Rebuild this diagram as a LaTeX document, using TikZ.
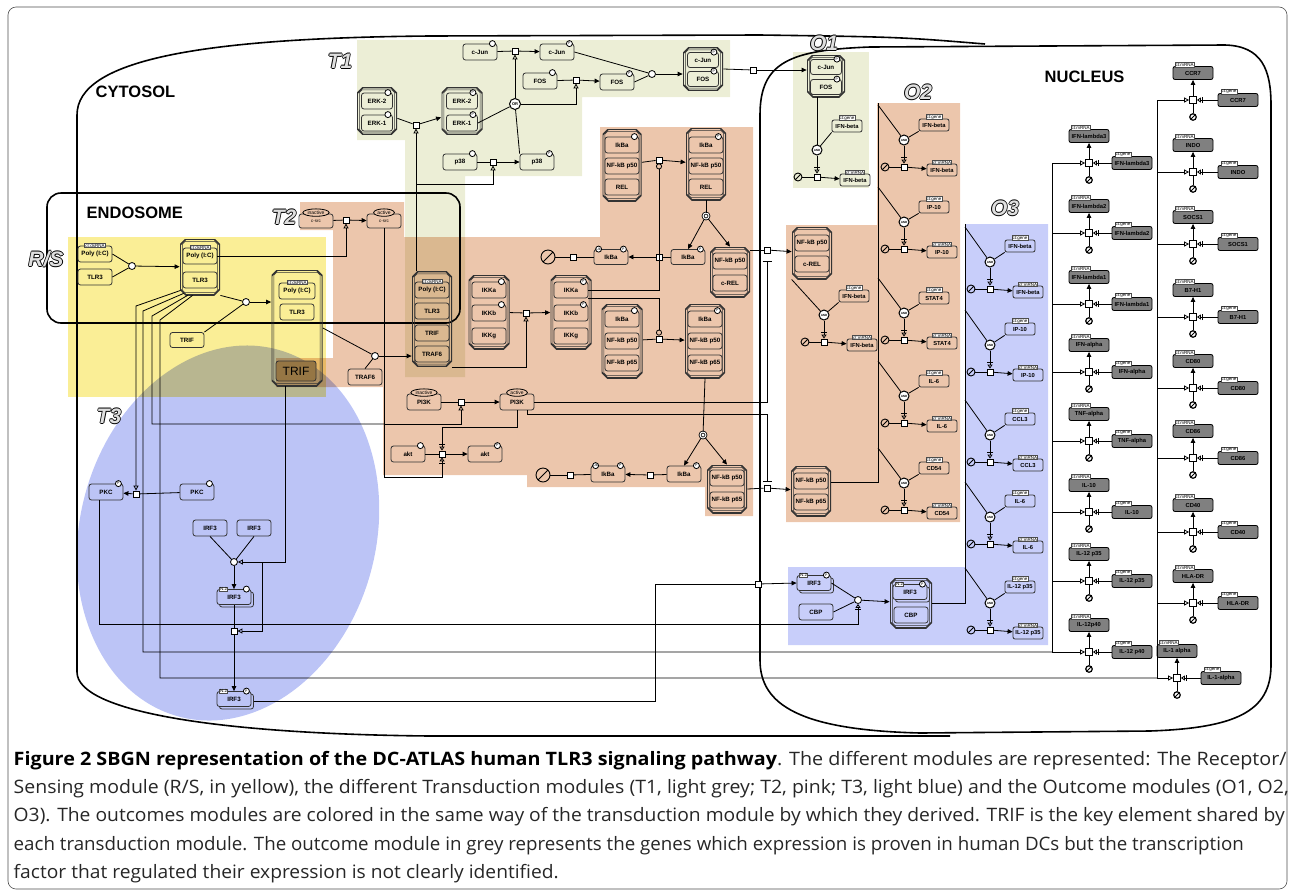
\documentclass[tikz,border=0pt]{standalone}
\usepackage{fontspec}
\usepackage{graphicx}
\setsansfont{Liberation Sans}
\newfontfamily\capfont{Open Sans}
\usetikzlibrary{arrows.meta,shapes.misc,shapes.geometric,calc}

\definecolor{rsyel}{RGB}{250,238,150}
\definecolor{tonegrn}{RGB}{236,238,214}
\definecolor{ttwopnk}{RGB}{236,198,172}
\definecolor{tthreeblu}{RGB}{188,196,246}
\definecolor{othreeblu}{RGB}{200,206,250}
\definecolor{trifbrn}{RGB}{150,118,68}
\definecolor{gengray}{RGB}{128,128,128}

\newcommand{\lbl}{\fontsize{6.2}{6.2}\selectfont\sffamily\bfseries}
\newcommand{\tlbl}{\fontsize{4.5}{4.5}\selectfont\sffamily}
\newcommand{\glbl}{\fontsize{5.8}{5.8}\selectfont\sffamily\bfseries}
\newcommand{\outl}[1]{\rlap{\hspace*{0.8pt}#1}\rlap{\hspace*{-0.8pt}#1}\rlap{\raisebox{0.8pt}{#1}}\rlap{\raisebox{-0.8pt}{#1}}\textcolor{gray!25}{#1}}
\newlength{\capw}
\newcommand{\capline}[2]{\settowidth{\capw}{#2}\pgfmathsetmacro{\capr}{#1/\capw}\scalebox{\capr}[1]{#2}}
% chamfered outline inside a node, #1 inset, #2 chamfer
\newcommand{\chpath}[2]{([xshift=#2, yshift=-#1]path picture bounding box.north west)
  -- ([xshift=-#2, yshift=-#1]path picture bounding box.north east) -- ([xshift=-#1, yshift=-#2]path picture bounding box.north east)
  -- ([xshift=-#1, yshift=#2]path picture bounding box.south east) -- ([xshift=-#2, yshift=#1]path picture bounding box.south east)
  -- ([xshift=#2, yshift=#1]path picture bounding box.south west) -- ([xshift=#1, yshift=#2]path picture bounding box.south west)
  -- ([xshift=#1, yshift=-#2]path picture bounding box.north west) -- cycle}

\tikzset{
  ent/.style={draw=black!80, rounded corners=2.5pt, minimum width=34pt, minimum height=16pt, inner sep=1pt, font=\lbl},
  cplx/.style={inner sep=0pt, path picture={\draw[black!80, line width=1.6pt] \chpath{0pt}{6pt};
    \draw[black!80, line width=0.5pt] \chpath{2.4pt}{5pt};}},
  proc/.style={draw, fill=white, minimum size=6pt, inner sep=0pt},
  asc/.style={circle, draw, fill=white, minimum size=7pt, inner sep=0pt},
  dis/.style={circle, draw, double, double distance=1pt, fill=white, minimum size=6pt, inner sep=0pt},
  andg/.style={circle, draw, line width=1pt, fill=white, minimum size=10pt, inner sep=0pt, font=\fontsize{3}{3}\selectfont\sffamily\bfseries},
  sink/.style={circle, draw, minimum size=8pt, inner sep=0pt, line width=0.9pt,
    path picture={\draw[line width=0.9pt] (path picture bounding box.south west) -- (path picture bounding box.north east);}},
  gsink/.style={sink, minimum size=6.5pt, line width=1.2pt},
  ctl/.style={draw=black!70, fill=white, inner sep=0.6pt, font=\tlbl},
  stv/.style={circle, draw, fill=white, inner sep=0pt, minimum size=6pt, font=\fontsize{3.5}{3.5}\selectfont\sffamily},
  phos/.style={label={[stv, anchor=center, xshift=-5pt]north east:P}},
  unph/.style={label={[stv, anchor=center, xshift=-5pt]north east:}},
  ubq/.style={label={[stv, anchor=center, xshift=5pt]north west:Ub}},
  actst/.style={label={[ellipse, draw, fill=ttwopnk, inner sep=0.8pt, font=\fontsize{5}{5}\selectfont\sffamily, anchor=center, yshift=1pt]north:#1}},
  pic/.style={label={[ctl, anchor=center]north:ct:dsRNA}},
  gene/.style={draw=black!80, rounded corners=2pt, minimum width=30pt, minimum height=12pt, inner sep=0.5pt, font=\glbl,
    label={[ctl, anchor=south, yshift=-1.5pt]north:ct:gene}},
  mrna/.style={draw=black!80, rounded corners=2pt, minimum width=30pt, minimum height=12pt, inner sep=0.5pt, font=\glbl,
    label={[ctl, anchor=south, yshift=-1.5pt]north:ct:mRNA}},
  gmrna/.style={draw, fill=gengray, rounded corners=2pt, minimum width=40pt, minimum height=13pt, inner sep=0.5pt, font=\glbl,
    label={[ctl, anchor=south west, xshift=2pt, yshift=-1.5pt]north west:ct:mRNA}},
  ggene/.style={draw, fill=gengray, rounded corners=2pt, minimum width=40pt, minimum height=13pt, inner sep=0.5pt, font=\glbl,
    label={[ctl, anchor=south west, xshift=3pt, yshift=-1.5pt]north west:ct:gene}},
  gproc/.style={draw, fill=white, minimum size=7pt, inner sep=0pt},
  prod/.style={-{Triangle[length=5pt,width=4.5pt]}},
  stim/.style={-{Triangle[open,length=5pt,width=5pt]}},
  catal/.style={-{Circle[open,length=6pt]}},
  nstim/.style={-{Bar[width=6pt,sep=1.5pt] Triangle[open,length=4pt,width=5pt]}},
  inhib/.style={-{Bar[width=9pt]}},
  comp/.style={line width=1.6pt},
  reg/.style={blend mode=multiply},
  modlbl/.style={font=\fontsize{21}{21}\selectfont\sffamily\bfseries\itshape},
  complbl/.style={anchor=base west, font=\fontsize{16.5}{16.5}\selectfont\sffamily\bfseries},
  capl/.style={anchor=base west, font=\capfont\fontsize{18.5}{18.5}\selectfont, text=black!85}
}

% one outcome unit: gene, AND gate, transcription, mRNA
\newcommand{\ounit}[6]{%
  \node[andg] (#1and) at (#2,#3) {AND};
  \node[gene] (#1g) at (#2+30,#3#6) {#4};
  \node[proc] (#1p) at (#2,#3+27) {};
  \node[sink] (#1s) at (#2-19,#3+27) {};
  \node[mrna] (#1m) at (#2+38,#3+30) {#5};
  \draw (#1g.south west) -- (#1and);
  \draw[nstim] (#1and) -- (#1p);
  \draw (#1s) -- (#1p);
  \draw[prod] (#1p) -- (#1m);
}
% one grey unit of the nucleus
\newcommand{\gunit}[6]{%
  \node[gproc] (#1p) at (#2,#3) {};
  \node[gmrna] (#1m) at (#2,#3-27) {#4};
  \node[ggene] (#1g) at (#2+#6,#3) {#5};
  \node[gsink] (#1s) at (#2,#3+17) {};
  \draw[prod] (#1p) -- (#1m);
  \draw (#1p) -- (#1s);
  \draw[nstim] (#1g) -- (#1p);
}
\newcommand{\multimer}[5]{%
  \node[ent, fill=#5, minimum height=15pt] (#1b) at (#2+2.5,#3+2.5) {};
  \node[ent, fill=#5, minimum height=15pt, #4, label={[ctl, anchor=center, xshift=7pt]north west:N:2}] (#1) at (#2,#3) {IRF3};
}

\begin{document}
\begin{tikzpicture}[x=1pt, y=-1pt, line width=0.8pt]
  \useasboundingbox (0,0) rectangle (1293,895);

  % modules
  \fill[ttwopnk, reg] (300,202) -- (404,202) -- (404,237) -- (600,237) -- (600,127) -- (753,127) -- (753,516) -- (705,516)
    -- (705,487) -- (527,487) -- (527,475) -- (383,475) -- (383,387) -- (276,387) -- (276,358) -- (333,358) -- (333,230)
    -- (300,230) -- cycle;
  \fill[ttwopnk, reg] (877,103) -- (960,103) -- (960,522) -- (786,522) -- (786,225) -- (877,225) -- cycle;
  \fill[tonegrn, reg] (357,40) -- (730,40) -- (730,97) -- (582,97) -- (582,176) -- (465,176) -- (465,377) -- (405,377)
    -- (405,140) -- (357,140) -- cycle;
  \fill[tonegrn, reg] (793,52) rectangle (869,188);
  \fill[rsyel, reg] (68,237) rectangle (326,397);
  \fill[tthreeblu, reg, rotate around={-15:(228,533)}] (228,533) ellipse [x radius=148, y radius=190];
  \fill[othreeblu, reg] (965,224) -- (1048,224) -- (1048,645) -- (788,645) -- (788,567) -- (965,567) -- cycle;

  % frame and compartments
  \draw[rounded corners=8pt, line width=0.6pt, black!70] (8,7) rectangle (1287,889);
  \draw[comp] (985,44) .. controls (900,37) .. (760,35) -- (430,36) .. controls (200,38) and (77,60) .. (77,115)
    -- (77,672) .. controls (77,712) and (220,734) .. (430,736) -- (950,736);
  \draw[comp] (760,115) .. controls (760,62) and (790,50) .. (870,47) -- (1225,45) .. controls (1262,46) and (1271,70) .. (1271,105)
    -- (1271,665) .. controls (1271,712) and (1235,728) .. (1150,731) -- (920,733) .. controls (800,730) and (760,705) .. (760,660) -- cycle;
  \draw[comp, rounded corners=14pt] (47,193) rectangle (460,323);
  \node[complbl] (cytl) at (92,97) {CYTOSOL};
  \node[complbl] (endl) at (83,218) {ENDOSOME};
  \node[complbl] (nucl) at (1041,82) {NUCLEUS};

  \node[modlbl] (mt1) at (340,61) {\outl{T1}};
  \node[modlbl] (mt2) at (284,217) {\outl{T2}};
  \node[modlbl] (mt3) at (109,416) {\outl{T3}};
  \node[modlbl] (mrs) at (46,259) {\outl{R/S}};
  \node[modlbl] (mo1) at (824,43) {\outl{O1}};
  \node[modlbl] (mo2) at (918,92) {\outl{O2}};
  \node[modlbl] (mo3) at (1005,208) {\outl{O3}};

  % receptor / sensing
  \node[ent, pic] (pica) at (95,254) {Poly (I:C)};
  \node[ent] (tlra) at (95,277) {TLR3};
  \node[asc] (asca) at (132,266) {};
  \node[cplx, minimum width=40pt, minimum height=56pt] (cb) at (200,267) {};
  \node[ent, pic] (picb) at (200,256) {Poly (I:C)};
  \node[ent] (tlrb) at (200,280) {TLR3};
  \node[asc] (ascb) at (246,302) {};
  \node[ent, minimum height=15pt] (trifa) at (187,340) {TRIF};
  \node[cplx, minimum width=51pt, minimum height=116pt] (cc) at (297,328) {};
  \node[ent, pic, minimum width=36pt] (picc) at (297,291) {Poly (I:C)};
  \node[ent] (tlrc) at (297,312) {TLR3};
  \node[ent, fill=trifbrn, minimum width=40pt, minimum height=20pt, font=\fontsize{12}{12}\selectfont\sffamily] (trifc) at (296,371) {TRIF};
  \node[asc] (ascc) at (375,356) {};
  \node[ent] (traf6a) at (365,377) {TRAF6};
  \node[cplx, minimum width=40pt, minimum height=95pt] (cd) at (432,319) {};
  \node[ent, pic] (picd) at (432,290) {Poly (I:C)};
  \node[ent] (tlrd) at (432,311) {TLR3};
  \node[ent] (trifd) at (432,333) {TRIF};
  \node[ent] (traf6d) at (432,354) {TRAF6};

  % c-src
  \node[ent, actst=inactive, minimum height=14pt, font=\tlbl] (csrci) at (316,221) {c-src};
  \node[proc] (pcsrc) at (346,220) {};
  \node[ent, actst=active, minimum height=14pt, font=\tlbl] (csrca) at (384,221) {c-src};

  % T1
  \node[cplx, minimum width=40pt, minimum height=47pt] (cerk) at (377,111) {};
  \node[ent, unph, minimum width=31pt] (erk2) at (377,101) {ERK-2};
  \node[ent, unph, minimum width=31pt] (erk1) at (377,123) {ERK-1};
  \node[proc] (perk) at (416,125) {};
  \node[cplx, minimum width=41pt, minimum height=47pt] (cerkp) at (462,111) {};
  \node[ent, phos, minimum width=31pt] (erk2p) at (462,101) {ERK-2};
  \node[ent, phos, minimum width=31pt] (erk1p) at (462,123) {ERK-1};
  \node[ent, unph] (p38i) at (460,162) {p38};
  \node[proc] (pp38) at (493,162) {};
  \node[ent, phos] (p38p) at (537,162) {p38};
  \node[andg, minimum size=11pt, font=\fontsize{4}{4}\selectfont\sffamily\bfseries] (org) at (515,104) {OR};
  \node[ent, unph] (cjuni) at (480,52) {c-Jun};
  \node[proc] (pjun) at (515,51) {};
  \node[ent, phos] (cjunp) at (557,52) {c-Jun};
  \node[ent, unph] (fosi) at (540,81) {FOS};
  \node[proc] (pfos) at (576,80) {};
  \node[ent, phos] (fosp) at (617,82) {FOS};
  \node[asc] (ascd) at (652,74) {};
  \node[cplx, minimum width=40pt, minimum height=43pt] (cap) at (703,69) {};
  \node[ent, phos, minimum width=31pt, minimum height=15pt] (cjunp2) at (703,60) {c-Jun};
  \node[ent, phos, minimum width=31pt, minimum height=15pt] (fosp2) at (703,79) {FOS};
  \node[proc] (pap) at (753,70) {};
  \node[cplx, minimum width=38pt, minimum height=42pt] (capn) at (826,76) {};
  \node[ent, phos, minimum width=31pt, minimum height=15pt] (cjunp3) at (826,67) {c-Jun};
  \node[ent, phos, minimum width=31pt, minimum height=15pt] (fosp3) at (826,87) {FOS};

  % T2
  \node[cplx, minimum width=41pt, minimum height=74pt] (cikk) at (489,312) {};
  \node[ent, unph] (ikka) at (489,290) {IKKa};
  \node[ent, unph] (ikkb) at (489,313) {IKKb};
  \node[ent] (ikkg) at (489,336) {IKKg};
  \node[proc] (pikk) at (526,313) {};
  \node[cplx, minimum width=41pt, minimum height=74pt] (cikkp) at (571,312) {};
  \node[ent, phos] (ikkap) at (571,290) {IKKa};
  \node[ent, phos] (ikkbp) at (571,313) {IKKb};
  \node[ent] (ikkgp) at (571,336) {IKKg};

  \node[cplx, minimum width=39pt, minimum height=72pt] (ci1) at (622,165) {};
  \node[ent, unph] (ikba1) at (622,145) {IkBa};
  \node[ent] (nfkb1) at (622,166) {NF-kB p50};
  \node[ent] (rel1) at (622,187) {REL};
  \node[proc] (pi1) at (659,160) {};
  \node[cplx, minimum width=40pt, minimum height=72pt] (ci2) at (706,164) {};
  \node[ent, phos] (ikba2) at (706,145) {IkBa};
  \node[ent] (nfkb2) at (706,166) {NF-kB p50};
  \node[ent] (rel2) at (706,187) {REL};
  \node[dis] (dis1) at (706,216) {};
  \node[ent, phos, minimum height=15pt] (ikbap1) at (688,257) {IkBa};
  \node[proc] (pdeg1) at (659,257) {};
  \node[ent, phos, ubq, minimum height=15pt] (ikbau1) at (611,257) {IkBa};
  \node[proc] (psink1) at (573,257) {};
  \node[sink, minimum size=14pt] (sinka) at (548,257) {};
  \node[cplx, minimum width=40pt, minimum height=50pt] (cnr) at (730,272) {};
  \node[ent] (nfkb3) at (730,261) {NF-kB p50};
  \node[ent] (crel1) at (730,283) {c-REL};

  \node[cplx, minimum width=41pt, minimum height=74pt] (ci3) at (622,341) {};
  \node[ent, unph] (ikba3) at (622,319) {IkBa};
  \node[ent] (nfkb4) at (622,341) {NF-kB p50};
  \node[ent] (p65a) at (622,363) {NF-kB p65};
  \node[proc] (pi3) at (659,339) {};
  \node[cplx, minimum width=40pt, minimum height=74pt] (ci4) at (705,341) {};
  \node[ent, phos] (ikba4) at (705,319) {IkBa};
  \node[ent] (nfkb5) at (705,341) {NF-kB p50};
  \node[ent] (p65b) at (705,363) {NF-kB p65};
  \node[dis] (dis2) at (703,435) {};
  \node[ent, phos] (ikbap2) at (684,474) {IkBa};
  \node[proc] (pdeg2) at (650,475) {};
  \node[ent, phos, ubq] (ikbau2) at (608,474) {IkBa};
  \node[proc] (psink2) at (570,475) {};
  \node[sink, minimum size=14pt] (sinkb) at (543,475) {};
  \node[cplx, minimum width=40pt, minimum height=48pt] (cnp) at (727,489) {};
  \node[ent] (nfkb6) at (727,478) {NF-kB p50};
  \node[ent] (p65c) at (727,500) {NF-kB p65};

  \node[ent, actst=inactive] (pi3ki) at (424,402) {PI3K};
  \node[proc] (ppi3k) at (461,402) {};
  \node[ent, actst=active] (pi3ka) at (517,402) {PI3K};
  \node[ent, unph] (akti) at (408,454) {akt};
  \node[proc] (pakt) at (442,454) {};
  \node[ent, phos] (akta) at (485,454) {akt};

  % T3
  \node[ent, phos] (pkcp) at (106,492) {PKC};
  \node[proc] (ppkc) at (136,494) {};
  \node[ent, unph] (pkci) at (197,492) {PKC};
  \node[ent] (irf3a) at (210,528) {IRF3};
  \node[ent] (irf3b) at (254,528) {IRF3};
  \node[asc] (ascf) at (234,562) {};
  \multimer{irf3d}{234}{597}{unph}{tthreeblu}
  \node[proc] (pirf3) at (234,631) {};
  \multimer{irf3p}{234}{699}{phos}{tthreeblu}

  % nucleus, O1 .. O3
  \node[proc] (pnr) at (767,250) {};
  \node[proc] (pnp) at (767,488) {};
  \node[cplx, minimum width=40pt, minimum height=52pt] (co2a) at (812,253) {};
  \node[ent] (nfkb7) at (812,243) {NF-kB p50};
  \node[ent] (crel2) at (812,264) {c-REL};
  \node[cplx, minimum width=40pt, minimum height=50pt] (co2b) at (811,491) {};
  \node[ent] (nfkb8) at (811,481) {NF-kB p50};
  \node[ent] (p65d) at (811,502) {NF-kB p65};
  \multimer{irf3o}{814}{583}{phos}{othreeblu}
  \node[ent] (cbp) at (816,612) {CBP};
  \node[asc] (asce) at (858,600) {};
  \node[proc] (pirf) at (758,584) {};
  \node[cplx, minimum width=42pt, minimum height=50pt] (cic) at (911,603) {};
  \multimer{irf3c}{910}{592}{phos}{othreeblu}
  \node[ent] (cbp2) at (911,615) {CBP};

  \ounit{oa}{817}{150}{IFN-beta}{IFN-beta}{-24}
  \ounit{ob}{824}{315}{IFN-beta}{IFN-beta}{-19}
  \ounit{oc}{904}{140}{IFN-beta}{IFN-beta}{-15}
  \ounit{od}{904}{222}{IP-10}{IP-10}{-15}
  \ounit{oe}{904}{313}{STAT4}{STAT4}{-15}
  \ounit{of}{904}{396}{IL-6}{IL-6}{-15}
  \ounit{og}{904}{483}{CD54}{CD54}{-15}
  \ounit{oh}{990}{262}{IFN-beta}{IFN-beta}{-16}
  \ounit{oi}{990}{345}{IP-10}{IP-10}{-16}
  \ounit{oj}{990}{435}{CCL3}{CCL3}{-16}
  \ounit{ok}{990}{517}{IL-6}{IL-6}{-16}
  \ounit{ol}{990}{603}{IL-12 p35}{IL-12 p35}{-16}

  \gunit{ga}{1089}{163}{IFN-lambda3}{IFN-lambda3}{43}
  \gunit{gb}{1089}{233}{IFN-lambda2}{IFN-lambda2}{43}
  \gunit{gc}{1089}{304}{IFN-lambda1}{IFN-lambda1}{43}
  \gunit{gd}{1089}{372}{IFN-alpha}{IFN-alpha}{43}
  \gunit{ge}{1089}{441}{TNF-alpha}{TNF-alpha}{43}
  \gunit{gf}{1089}{512}{IL-10}{IL-10}{43}
  \gunit{gg}{1089}{581}{IL-12 p35}{IL-12 p35}{43}
  \gunit{gh}{1089}{652}{IL-12p40}{IL-12 p40}{43}
  \gunit{gi}{1193}{100}{CCR7}{CCR7}{45}
  \gunit{gj}{1193}{172}{INDO}{INDO}{45}
  \gunit{gk}{1193}{244}{SOCS1}{SOCS1}{45}
  \gunit{gl}{1193}{317}{B7-H1}{B7-H1}{45}
  \gunit{gm}{1193}{388}{CD80}{CD80}{45}
  \gunit{gn}{1193}{458}{CD86}{CD86}{45}
  \gunit{go}{1193}{532}{CD40}{CD40}{45}
  \gunit{gp}{1193}{603}{HLA-DR}{HLA-DR}{45}
  \gunit{gq}{1177}{678}{IL-1 alpha}{IL-1-alpha}{44}

  % grey module lines
  \coordinate (gl1) at (1052,163);
  \coordinate (gl2) at (1052,652);
  \coordinate (gr1) at (1157,100);
  \coordinate (gr2) at (1157,678);
  \draw (gl1) -- (gl2);
  \draw (gr1) -- (gr2);
  \foreach \u in {ga,gb,gc,gd,ge,gf,gg,gh} \draw[stim] (\u p -| gl1) -- (\u p);
  \foreach \u in {gi,gj,gk,gl,gm,gn,go,gp} \draw[stim] (\u p -| gr1) -- (\u p);
  \draw[stim] (gr2) -- (gqp);

  % connectors: R/S
  \draw (pica.east) -- (asca);
  \draw (tlra.east) -- (asca);
  \draw[prod] (asca) -- (cb);
  \draw (cb.south east) -- (ascb);
  \draw (trifa.north east) -- (ascb);
  \draw[prod] (ascb) -- (cc.west |- ascb);
  \draw (cc.east) -- (ascc);
  \draw (traf6a.north) -- (ascc);
  \draw[prod] (ascc) -- (cd.west |- ascc);
  \draw[stim] (picb.east) -| (pcsrc.south);
  \draw (csrci) -- (pcsrc);
  \draw[prod] (pcsrc) -- (csrca);

  % T1
  \coordinate (eb) at (416,184);
  \draw[stim] (cd.north -| perk) -- (perk.south);
  \draw[stim] (eb) -| (pp38.south);
  \draw (cerk) -- (perk);
  \draw[prod] (perk) -- (cerkp);
  \draw (p38i) -- (pp38);
  \draw[prod] (pp38) -- (p38p);
  \draw (erk1p.east) -- (org);
  \draw (p38p.north west) -- (org);
  \draw[stim] (org) -- (pjun.south);
  \draw[stim] (org) -| (pfos.south);
  \draw (cjuni) -- (pjun);
  \draw[prod] (pjun) -- (cjunp);
  \draw (fosi) -- (pfos);
  \draw[prod] (pfos) -- (fosp);
  \draw (cjunp.east) -- (ascd);
  \draw (fosp.east) -- (ascd);
  \draw[prod] (ascd) -- (cap.west |- ascd);
  \draw (cap.east) -- (pap);
  \draw[prod] (pap) -- (capn.west |- pap);
  \draw (oaand |- capn.south) -- (oaand);

  % T2
  \draw[stim] (cd.south east) -| (pikk.south);
  \draw (cikk) -- (pikk);
  \draw[prod] (pikk) -- (cikkp);
  \draw[catal] (ikkap.east) -| (pi1.south);
  \draw[catal] (ikkap.south east) -| (pi3.north);
  \draw (ci1) -- (pi1);
  \draw[prod] (pi1) -- (ci2);
  \draw (ci2.south) -- (dis1);
  \draw[prod] (dis1) -- (ikbap1.north);
  \draw[prod] (dis1) -- (cnr.north);
  \draw (ikbap1) -- (pdeg1);
  \draw[prod] (pdeg1) -- (ikbau1);
  \draw (ikbau1) -- (psink1);
  \draw (psink1) -- (sinka);
  \draw (ci3) -- (pi3);
  \draw[prod] (pi3) -- (ci4);
  \draw (ci4.south) -- (dis2);
  \draw[prod] (dis2) -- (ikbap2.north);
  \draw[prod] (dis2) -- (cnp.north);
  \draw (ikbap2) -- (pdeg2);
  \draw[prod] (pdeg2) -- (ikbau2);
  \draw (ikbau2) -- (psink2);
  \draw (psink2) -- (sinkb);
  \draw (pnr -| cnr.east) -- (pnr);
  \draw[prod] (pnr) -- (co2a);
  \draw (cnp.east) -- (pnp);
  \draw[prod] (pnp) -- (co2b);
  \coordinate (cs1) at (384,424);
  \coordinate (cs2) at (384,477);
  \coordinate (pk) at (442,427);
  \draw (csrca.south) -- (cs2);
  \draw[stim] (cs1) -| (ppi3k.south);
  \draw[nstim] (cs2) -| (pakt.south);
  \draw (pi3ki) -- (ppi3k);
  \draw[prod] (ppi3k) -- (pi3ka);
  \draw (akti) -- (pakt);
  \draw[prod] (pakt) -- (akta);
  \draw[nstim] (pi3ka.south) |- (pk) -- (pakt.north);
  \draw[inhib, shorten >=8pt] (pi3ka.east) -| (pnr.south);
  \draw[inhib, shorten >=3pt] ($(pi3ka.south east)+(-7,0)$) |- ($(pnp.north)+(0,-70)$) -- (pnp.north);

  % lines out of the endosome complex
  \draw[stim] ($(cb.south west)+(1,-5)$) -- (136,306) -- (ppkc.north);
  \draw ($(cb.south west)+(4,-2)$) -- (143,311) -- (143,652) -- (gl2);
  \draw ($(cb.south west)+(8,0)$) -- (152,316) -- (152,424) -- (cs1);
  \draw ($(cb.south west)+(13,0)$) -- (160,320) -- (160,678) -- (gr2);

  % T3
  \coordinate (tf) at (285,562);
  \coordinate (tg) at (262,562);
  \draw (pkci) -- (ppkc);
  \draw[prod] (ppkc) -- (pkcp);
  \draw (irf3a.south) -- (ascf);
  \draw (irf3b.south) -- (ascf);
  \draw[prod] (ascf) -- (irf3d.north);
  \draw[stim] (cc.south -| tf) -- (tf) -- (ascf.east);
  \draw[stim] (tg) |- (pirf3.east);
  \draw (irf3d.south) -- (pirf3);
  \draw[prod] (pirf3) -- (irf3p.north);
  \coordinate (ia) at (655,701);
  \coordinate (ib) at (655,584);
  \draw (irf3pb.east |- ia) -- (ia) -- (ib) -- (pirf);
  \draw[prod] (pirf) -- (irf3o.west);
  \draw[nstim] ($(pkcp.south)+(-7,0)$) |- ($(asce.south)+(0,20)$) -- (asce.south);
  \draw (irf3o.east) -- (asce);
  \draw (cbp.east) -- (asce);
  \draw[prod] (asce) -- (cic);

  % outcome lines
  \coordinate (o2t) at (878,103);
  \coordinate (o2b) at (878,482);
  \draw (o2b -| co2b.east) -- (o2b) -- (o2t);
  \draw (co2a.south west) -- (oband);
  \foreach \u in {oc,od,oe,of,og} \draw ($(\u and)+(-26,-35)$) -- (\u and);
  \coordinate (o3t) at (965,224);
  \coordinate (o3b) at (965,603);
  \draw (cic.east) -- (o3b) -- (o3t);
  \foreach \u in {oh,oi,oj,ok,ol} \draw ($(\u and)+(-25,-35)$) -- (\u and);

  % caption
  \node[capl] (cap1) at (10,765) {\capline{1273}{{\bfseries\color{black}Figure 2 SBGN representation of the DC-ATLAS human TLR3 signaling pathway}. The different modules are represented: The Receptor/}};
  \node[capl] (cap2) at (10,793) {\capline{1275}{Sensing module (R/S, in yellow), the different Transduction modules (T1, light grey; T2, pink; T3, light blue) and the Outcome modules (O1, O2,}};
  \node[capl] (cap3) at (10,821) {\capline{1271}{O3). The outcomes modules are colored in the same way of the transduction module by which they derived. TRIF is the key element shared by}};
  \node[capl] (cap4) at (10,850) {\capline{1230}{each transduction module. The outcome module in grey represents the genes which expression is proven in human DCs but the transcription}};
  \node[capl] (cap5) at (10,878) {\capline{545}{factor that regulated their expression is not clearly identified.}};
\end{tikzpicture}
\end{document}
